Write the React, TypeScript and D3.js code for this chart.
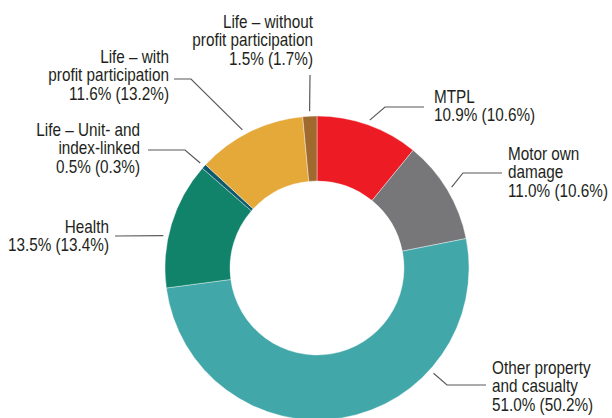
import React from 'react';
import * as d3 from 'd3';

// shares of gross premiums written, current year (previous year)
const categories = [
  'MTPL',
  'Motor own damage',
  'Other property and casualty',
  'Health',
  'Life – Unit- and index-linked',
  'Life – with profit participation',
  'Life – without profit participation',
];
const shareNow = [10.9, 11.0, 51.0, 13.5, 0.5, 11.6, 1.5];
const sharePrev = [10.6, 10.6, 50.2, 13.4, 0.3, 13.2, 1.7];
const colors = ['#ed1c24', '#77777a', '#42a7a9', '#10836a', '#0d5a6b', '#e5a93a', '#a0692d'];

// how each label is broken into lines
const labelLines = [
  ['MTPL'],
  ['Motor own', 'damage'],
  ['Other property', 'and casualty'],
  ['Health'],
  ['Life – Unit- and', 'index-linked'],
  ['Life – with', 'profit participation'],
  ['Life – without', 'profit participation'],
];

// label layout: text anchor point, leader elbow and end, where on the slice the leader starts
const layout = [
  { x: 434, y: 103, anchor: 'start', elbow: [385, 107], end: [424, 107], at: 0.5 },
  { x: 508, y: 160, anchor: 'start', elbow: [463, 173], end: [502, 173], at: 0.5 },
  { x: 492, y: 374, anchor: 'start', elbow: [447, 385], end: [486, 385], at: 0.29 },
  { x: 109, y: 233, anchor: 'end', elbow: null, end: [115, 236], at: 0.4 },
  { x: 140, y: 136, anchor: 'end', elbow: [185, 150], end: [148, 150], at: 0.5 },
  { x: 169, y: 63, anchor: 'end', elbow: [191, 79], end: [174, 79], at: 0.45 },
  { x: 313, y: 28, anchor: 'end', elbow: null, end: [310, 75], at: 0.5 },
];

const W = 612;
const H = 418;
const cx = 317;
const cy = 268;
const outerR = 152;
const innerR = 87;
const lineH = 18.5;
const squeeze = 0.85; // condensed look

const fmt = (v: number) => v.toFixed(1) + '%';

export default function App() {
  const pie = d3.pie<number>().sort(null).value((d) => d);
  const arcs = pie(shareNow);
  const arc = d3.arc<d3.PieArcDatum<number>>().innerRadius(innerR).outerRadius(outerR);

  return (
    <svg
      width={W}
      height={H}
      style={{ position: 'absolute', left: 0, top: 0, background: '#fff' }}
      fontFamily="'Liberation Sans', Arial, sans-serif"
      fontSize={18}
    >
      <g transform={`translate(${cx},${cy})`}>
        {arcs.map((a, i) => (
          <path key={categories[i]} d={arc(a) || ''} fill={colors[i]} stroke="#fff" strokeWidth={0.4} />
        ))}
      </g>
      {arcs.map((a, i) => {
        const L = layout[i];
        const ang = a.startAngle + (a.endAngle - a.startAngle) * L.at;
        const r = outerR + 5;
        const sx = cx + r * Math.sin(ang);
        const sy = cy - r * Math.cos(ang);
        const pts: [number, number][] = [[sx, sy]];
        if (L.elbow) pts.push(L.elbow as [number, number]);
        pts.push(L.end as [number, number]);
        const line = d3.line();
        const lines = [...labelLines[i], `${fmt(shareNow[i])} (${fmt(sharePrev[i])})`];
        return (
          <g key={categories[i]}>
            <path d={line(pts) || ''} fill="none" stroke="#58595b" strokeWidth={1.2} />
            <g transform={`translate(${L.x},${L.y}) scale(${squeeze},1)`}>
              <text textAnchor={L.anchor} fill="#231f20">
                {lines.map((t, j) => (
                  <tspan key={j} x={0} y={j * lineH}>
                    {t}
                  </tspan>
                ))}
              </text>
            </g>
          </g>
        );
      })}
    </svg>
  );
}
